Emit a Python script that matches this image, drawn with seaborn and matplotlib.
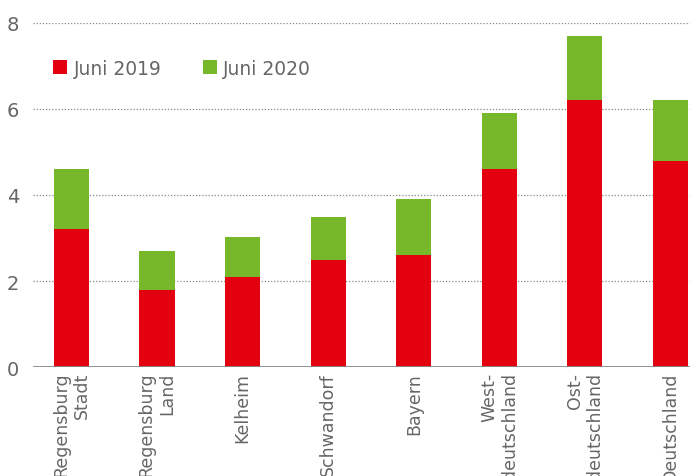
import pandas as pd
import matplotlib.pyplot as plt
import seaborn as sns

# Daten
regionen = ['Regensburg\nStadt', 'Regensburg\nLand', 'Kelheim', 'Schwandorf',
            'Bayern', 'West-\ndeutschland', 'Ost-\ndeutschland', 'Deutschland']
juni_2019 = [3.2, 1.8, 2.1, 2.5, 2.6, 4.6, 6.2, 4.8]
juni_2020 = [4.6, 2.7, 3.02, 3.5, 3.9, 5.9, 7.7, 6.2]

df = pd.DataFrame({'Region': regionen, 'Juni 2019': juni_2019, 'Juni 2020': juni_2020})

rot = '#E3000F'
gruen = '#76B82A'
grau = '#666666'

sns.set_style('white')
plt.rcParams['font.family'] = ['DejaVu Sans']

fig = plt.figure(figsize=(7, 4.77), dpi=100)
ax = fig.add_axes([0.047, 0.2285, 0.939, 0.7212])

# Gesamthöhe (Juni 2020) zuerst, Juni 2019 darüber
sns.barplot(data=df, x='Region', y='Juni 2020', color=gruen, width=0.41,
            saturation=1, linewidth=0, label='Juni 2020', ax=ax, zorder=3)
sns.barplot(data=df, x='Region', y='Juni 2019', color=rot, width=0.41,
            saturation=1, linewidth=0, label='Juni 2019', ax=ax, zorder=3)

ax.set_ylim(0, 8)
ax.set_xlim(-0.45, 7.23)
ax.set_yticks([0, 2, 4, 6, 8])
ax.set_xlabel('')
ax.set_ylabel('')

ax.grid(axis='y', linestyle=(0, (1, 1.5)), color='#888888', linewidth=0.9, zorder=0)
ax.axhline(0, color='#888888', linewidth=2, zorder=4)
for s in ax.spines.values():
    s.set_visible(False)

ax.tick_params(axis='both', length=0, colors=grau, labelsize=12.5)
ax.tick_params(axis='y', pad=10, labelsize=14)
for lbl in ax.get_xticklabels():
    lbl.set_rotation(90)
    lbl.set_multialignment('right')
    lbl.set_verticalalignment('top')

handles, labels = ax.get_legend_handles_labels()
order = [labels.index('Juni 2019'), labels.index('Juni 2020')]
leg = ax.legend([handles[i] for i in order], [labels[i] for i in order],
                loc='upper left', bbox_to_anchor=(0.005, 0.945), ncol=2, frameon=False,
                fontsize=13.5, handlelength=0.75, handleheight=0.75,
                handletextpad=0.35, columnspacing=2.2, labelcolor=grau)

fig.savefig('out.png', dpi=100)
